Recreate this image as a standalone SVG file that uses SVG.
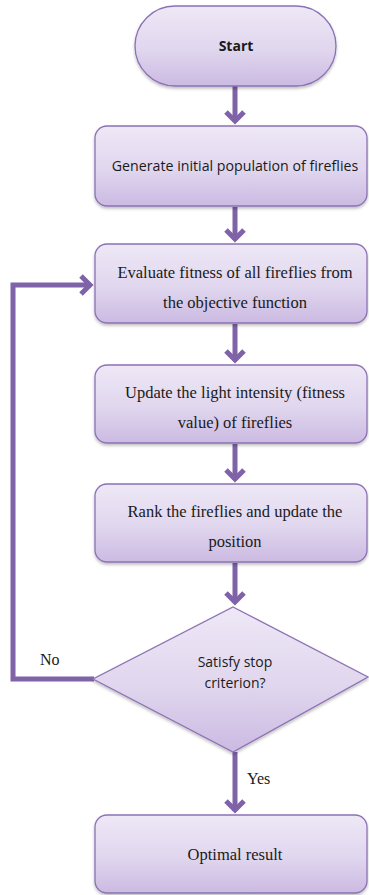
<svg xmlns="http://www.w3.org/2000/svg" width="369" height="895" viewBox="0 0 369 895">
<defs>
<linearGradient id="g" x1="0" y1="0" x2="0" y2="1">
<stop offset="0" stop-color="#EEE8F6"/>
<stop offset="0.55" stop-color="#E0D6EE"/>
<stop offset="1" stop-color="#CBBAE2"/>
</linearGradient>
<filter id="sh" x="-10%" y="-10%" width="120%" height="130%">
<feDropShadow dx="0" dy="2" stdDeviation="1.5" flood-color="#000" flood-opacity="0.25"/>
</filter>
</defs>
<style>
.n{fill:url(#g);stroke:#8C72B4;stroke-width:1.3;filter:url(#sh)}
.c{fill:none;stroke:#7F62A8;stroke-width:5}
.h{fill:none;stroke:#7F62A8;stroke-width:5;stroke-linejoin:miter}
</style>
<g id="connectors">
<line class="c" x1="235" y1="86" x2="235" y2="122"/>
<polyline class="h" points="226,112 235,121 244,112"/>
<line class="c" x1="235" y1="207" x2="235" y2="240"/>
<polyline class="h" points="226,230 235,239 244,230"/>
<line class="c" x1="235" y1="324" x2="235" y2="361"/>
<polyline class="h" points="226,351 235,360 244,351"/>
<line class="c" x1="235" y1="444" x2="235" y2="480"/>
<polyline class="h" points="226,470 235,479 244,470"/>
<line class="c" x1="235" y1="563" x2="235" y2="603"/>
<polyline class="h" points="226,593 235,602 244,593"/>
<line class="c" x1="235" y1="752" x2="235" y2="811"/>
<polyline class="h" points="226,801 235,810 244,801"/>
<polyline class="c" points="94,679 13,679 13,285 91,285"/>
<polyline class="h" points="81,276 90,285 81,294"/>
</g>
<g id="start">
<rect class="n" x="135" y="6" width="201" height="80" rx="40"/>
<text x="236" y="51" font-family="'Open Sans','Liberation Sans',sans-serif" font-size="14" font-weight="bold" fill="#1a1a1a" text-anchor="middle">Start</text>
</g>
<g id="generate">
<rect class="n" x="95" y="126" width="272" height="80" rx="12"/>
<text x="235" y="171" font-family="'Open Sans','Liberation Sans',sans-serif" font-size="14.2" fill="#1a1a1a" text-anchor="middle">Generate initial population of fireflies</text>
</g>
<g id="evaluate" font-family="'Liberation Serif','DejaVu Serif',serif" font-size="16.5" fill="#1a1a1a" text-anchor="middle">
<rect class="n" x="95" y="244" width="272" height="79" rx="12"/>
<text x="235" y="278">Evaluate fitness of all fireflies from</text>
<text x="235" y="308">the objective function</text>
</g>
<g id="update" font-family="'Liberation Serif','DejaVu Serif',serif" font-size="16.5" fill="#1a1a1a" text-anchor="middle">
<rect class="n" x="95" y="365" width="272" height="78" rx="12"/>
<text x="235" y="398">Update the light intensity (fitness</text>
<text x="235" y="428">value) of fireflies</text>
</g>
<g id="rank" font-family="'Liberation Serif','DejaVu Serif',serif" font-size="16.5" fill="#1a1a1a" text-anchor="middle">
<rect class="n" x="95" y="484" width="272" height="78" rx="12"/>
<text x="235" y="517">Rank the fireflies and update the</text>
<text x="235" y="547">position</text>
</g>
<g id="decision" font-family="'Open Sans','Liberation Sans',sans-serif" font-size="14" fill="#1a1a1a" text-anchor="middle">
<polygon class="n" points="233,607 368,677 233,752 93,679"/>
<text x="235" y="667">Satisfy stop</text>
<text x="235" y="688">criterion?</text>
</g>
<g id="result" font-family="'Liberation Serif','DejaVu Serif',serif" font-size="16.5" fill="#1a1a1a" text-anchor="middle">
<rect class="n" x="95" y="815" width="272" height="78" rx="12"/>
<text x="235" y="860">Optimal result</text>
</g>
<g id="labels" font-family="'Liberation Serif','DejaVu Serif',serif" font-size="16" fill="#1a1a1a">
<text x="247" y="784">Yes</text>
<text x="40" y="665">No</text>
</g>
</svg>
